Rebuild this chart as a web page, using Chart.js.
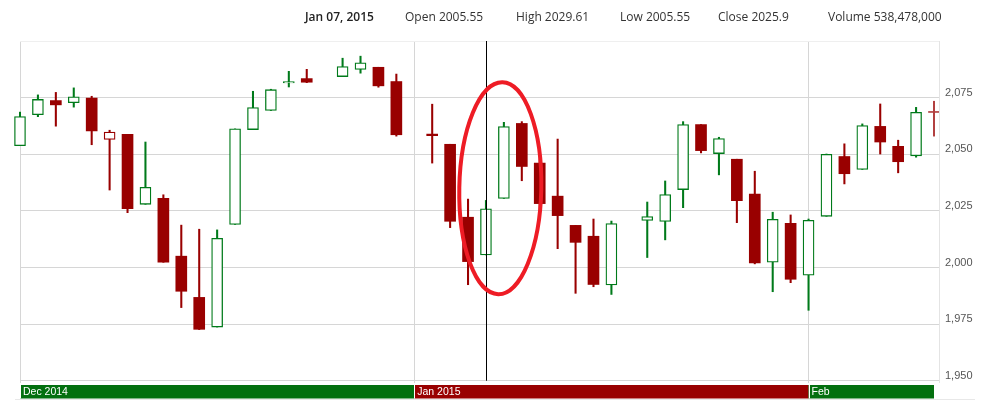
<!DOCTYPE html>
<html>
<head>
<meta charset="utf-8">
<script src="https://cdn.jsdelivr.net/npm/chart.js@4.4.1/dist/chart.umd.min.js"></script>
<style>
  html, body { margin: 0; padding: 0; background: #fff; }
  #wrap { position: relative; width: 985px; height: 414px; overflow: hidden; }
  #chart { position: absolute; left: 0; top: 0; }
  .hdr { position: absolute; top: 8px; line-height: 16px; font: 12px 'Open Sans', sans-serif; color: #333; white-space: nowrap; }
  .hdr.date { font-weight: 600; color: #222; }
</style>
</head>
<body>
<div id="wrap">
  <canvas id="chart" width="985" height="414"></canvas>
  <div id="header"></div>
</div>
<script>
// one slot per weekday, holidays left empty (null)
const days = [
  '2014-12-02','2014-12-03','2014-12-04','2014-12-05','2014-12-08','2014-12-09','2014-12-10','2014-12-11',
  '2014-12-12','2014-12-15','2014-12-16','2014-12-17','2014-12-18','2014-12-19','2014-12-22','2014-12-23',
  '2014-12-24','2014-12-25','2014-12-26','2014-12-29','2014-12-30','2014-12-31','2015-01-01','2015-01-02',
  '2015-01-05','2015-01-06','2015-01-07','2015-01-08','2015-01-09','2015-01-12','2015-01-13','2015-01-14',
  '2015-01-15','2015-01-16','2015-01-19','2015-01-20','2015-01-21','2015-01-22','2015-01-23','2015-01-26',
  '2015-01-27','2015-01-28','2015-01-29','2015-01-30','2015-02-02','2015-02-03','2015-02-04','2015-02-05',
  '2015-02-06','2015-02-09','2015-02-10','2015-02-11'
];
const opens = [
  2053.8, 2067.5, 2073.7, 2072.8, 2074.8, 2056.5, 2058.8, 2027.9,
  2030.5, 2005.0, 1986.8, 1973.7, 2019.0, 2060.9, 2069.3, 2081.5,
  2083.4, null,   2084.3, 2087.4, 2088.4, 2082.1, null,   2058.9,
  2054.4, 2022.2, 2005.55, 2030.5, 2063.6, 2046.1, 2031.5, 2018.6,
  2013.8, 1992.3, null,   2020.8, 2020.3, 2034.4, 2063.1, 2050.3,
  2047.8, 2032.4, 2002.3, 2019.5, 1996.6, 2022.6, 2049.0, 2043.3,
  2062.3, 2053.5, 2049.3, 2068.5
];
const highs = [
  2068.6, 2076.2, 2077.3, 2079.3, 2075.6, 2060.6, 2058.8, 2055.4,
  2032.1, 2018.7, 2016.9, 2016.6, 2061.2, 2077.8, 2078.7, 2086.6,
  2087.5, null,   2092.4, 2093.3, 2088.4, 2085.4, null,   2072.1,
  2054.4, 2030.2, 2029.61, 2064.1, 2064.4, 2049.3, 2056.7, 2018.6,
  2021.4, 2020.5, null,   2028.9, 2038.2, 2064.4, 2063.1, 2057.5,
  2047.8, 2042.5, 2024.4, 2023.2, 2021.4, 2050.1, 2054.6, 2063.4,
  2072.2, 2056.2, 2070.7, 2073.4
];
const lows = [
  2053.8, 2066.6, 2062.4, 2070.8, 2054.2, 2034.2, 2024.2, 2027.9,
  2002.3, 1982.3, 1972.6, 1973.7, 2019.0, 2060.9, 2069.3, 2079.7,
  2081.6, null,   2084.3, 2085.8, 2079.6, 2058.0, null,   2046.1,
  2017.6, 1992.4, 2005.55, 2030.5, 2038.3, 2022.6, 2008.3, 1988.6,
  1991.5, 1988.1, null,   2004.4, 2012.2, 2026.4, 2050.6, 2040.9,
  2019.8, 2001.6, 1989.3, 1993.3, 1981.1, 2022.6, 2036.9, 2043.3,
  2050.1, 2041.8, 2048.7, 2058.0
];
const closes = [
  2066.6, 2074.2, 2071.8, 2075.4, 2060.3, 2059.8, 2026.0, 2035.4,
  2002.3, 1989.5, 1972.7, 2012.9, 2061.2, 2070.6, 2078.5, 2082.1,
  2081.8, null,   2088.7, 2090.4, 2080.2, 2058.6, null,   2058.2,
  2020.4, 2002.6, 2025.9, 2062.2, 2044.6, 2028.2, 2022.9, 2011.1,
  1992.5, 2019.4, null,   2022.5, 2032.2, 2063.1, 2051.6, 2056.9,
  2029.5, 2002.0, 2021.3, 1994.8, 2020.8, 2050.0, 2041.4, 2062.7,
  2055.4, 2046.7, 2068.5, 2068.45
];
const yTicks = [1950, 1975, 2000, 2025, 2050, 2075, 2100];
const months = ['Dec 2014', 'Jan 2015', 'Feb'];
const monthStarts = ['2014-12-02', '2015-01-01', '2015-02-02'];
const crosshairDay = '2015-01-07';
const crosshairVolume = 538478000;

const UP = '#007a1a', DOWN = '#990000', LAST = '#b24040';
const monthColors = ['#03700f', '#990000', '#03700f'];

// colour by change vs previous close, fill when close < open
const candleColor = [], candleFill = [], candleBorder = [];
let prev = null;
days.forEach((d, i) => {
  if (closes[i] == null) { candleColor.push(null); candleFill.push(null); candleBorder.push(0); return; }
  const ref = prev == null ? opens[i] : prev;
  let c = closes[i] >= ref ? UP : DOWN;
  if (i === days.length - 1) c = LAST;
  const filled = closes[i] < opens[i];
  candleColor.push(c);
  candleFill.push(filled ? c : '#ffffff');
  candleBorder.push(filled ? 0 : 1.3);
  prev = closes[i];
});

const bodies = days.map((d, i) => opens[i] == null ? null : [opens[i], closes[i]]);
const wicks = days.map((d, i) => lows[i] == null ? null : [lows[i], highs[i]]);

// header
const ci = days.indexOf(crosshairDay);
const dt = new Date(crosshairDay + 'T00:00:00');
const monNames = ['Jan','Feb','Mar','Apr','May','Jun','Jul','Aug','Sep','Oct','Nov','Dec'];
const hdrItems = [
  monNames[dt.getMonth()] + ' ' + String(dt.getDate()).padStart(2, '0') + ', ' + dt.getFullYear(),
  'Open ' + opens[ci],
  'High ' + highs[ci],
  'Low ' + lows[ci],
  'Close ' + closes[ci],
  'Volume ' + crosshairVolume.toLocaleString('en-US')
];
const hdrX = [305, 405, 516, 620, 718, 828];
const header = document.getElementById('header');
hdrItems.forEach((t, i) => {
  const s = document.createElement('div');
  s.className = 'hdr' + (i === 0 ? ' date' : '');
  s.style.left = hdrX[i] + 'px';
  s.textContent = t;
  header.appendChild(s);
});

const overlay = {
  id: 'overlay',
  afterDatasetsDraw(chart) {
    const { ctx, chartArea: a, scales: { x, y } } = chart;
    ctx.save();
    // faint right edge
    ctx.strokeStyle = '#e4e4e4';
    ctx.lineWidth = 1;
    ctx.beginPath();
    ctx.moveTo(Math.round(a.right) + 5.5, a.top);
    ctx.lineTo(Math.round(a.right) + 5.5, a.bottom);
    ctx.stroke();

    // crosshair
    const cx = Math.round(x.getPixelForValue(ci)) + 0.5;
    ctx.strokeStyle = '#000';
    ctx.beginPath();
    ctx.moveTo(cx, a.top);
    ctx.lineTo(cx, y.getPixelForValue(1950));
    ctx.stroke();

    // hand-drawn highlight ellipse
    ctx.strokeStyle = '#ee1c25';
    ctx.lineWidth = 4;
    ctx.beginPath();
    ctx.ellipse(x.getPixelForValue(ci + 0.8), y.getPixelForValue(2035), 41, 106, 0.02, 0, Math.PI * 2);
    ctx.stroke();

    // month band
    const top = 385, h = 13.5;
    monthStarts.forEach((m, i) => {
      const x0 = x.getPixelForValue(days.indexOf(m));
      const x1 = i < monthStarts.length - 1 ? x.getPixelForValue(days.indexOf(monthStarts[i + 1])) : a.right;
      ctx.fillStyle = monthColors[i];
      ctx.fillRect(x0, top, x1 - x0, h);
      ctx.fillStyle = '#fff';
      ctx.fillRect(Math.round(x0), top, 1, h);
      ctx.font = '10.5px "Liberation Sans", Arial, sans-serif';
      ctx.textBaseline = 'middle';
      ctx.fillText(months[i], x0 + 3, top + h / 2 + 0.5);
    });
    ctx.strokeStyle = '#e8e8e8';
    ctx.lineWidth = 1;
    ctx.beginPath();
    ctx.moveTo(15, 399.5);
    ctx.lineTo(975, 399.5);
    ctx.stroke();
    ctx.restore();
  }
};

new Chart(document.getElementById('chart'), {
  type: 'bar',
  data: {
    labels: days,
    datasets: [
      {
        data: wicks,
        backgroundColor: candleColor,
        barThickness: 1.4,
        grouped: false,
        order: 2,
        clip: false
      },
      {
        data: bodies,
        backgroundColor: candleFill,
        borderColor: candleColor,
        borderWidth: candleBorder,
        borderSkipped: false,
        barThickness: 11,
        minBarLength: 1,
        grouped: false,
        order: 1,
        clip: false
      }
    ]
  },
  options: {
    responsive: false,
    animation: false,
    events: [],
    layout: { padding: { top: 41, left: 20, right: 0, bottom: 31 } },
    plugins: { legend: { display: false }, tooltip: { enabled: false } },
    scales: {
      x: {
        offset: false,
        border: { display: false },
        ticks: { display: false, autoSkip: false },
        grid: {
          offset: false,
          drawTicks: false,
          color: c => monthStarts.includes(days[c.index]) ? '#d6d6d6' : 'rgba(0,0,0,0)'
        }
      },
      y: {
        position: 'right',
        min: 1949,
        max: 2100,
        afterBuildTicks: s => { s.ticks = yTicks.map(v => ({ value: v })); },
        afterFit: s => { s.width = 51; },
        border: { display: false },
        grid: {
          tickLength: 5,
          color: c => c.tick && c.tick.value === 2100 ? '#efefef' : '#d6d6d6'
        },
        ticks: {
          padding: 6,
          labelOffset: -5,
          color: '#555',
          font: { family: '"Liberation Sans", Arial, sans-serif', size: 11 },
          callback: v => v === 2100 ? '' : v.toLocaleString('en-US')
        }
      }
    }
  },
  plugins: [overlay]
});
</script>
</body>
</html>
